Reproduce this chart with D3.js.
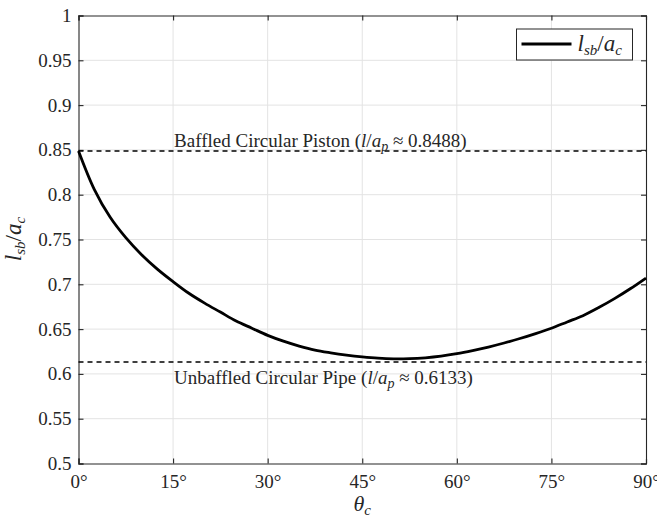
<!DOCTYPE html>
<html>
<head>
<meta charset="utf-8">
<script src="https://cdn.jsdelivr.net/npm/d3@7"></script>
<style>
  body { margin: 0; background: #fff; }
</style>
</head>
<body>
<div id="VisContainer"></div>
<script>
// angle (deg) and l_sb/a_c
var thetaVals = [0, 2.5, 5, 7.5, 10, 12.5, 15, 17.5, 20, 22.5, 25, 27.5, 30, 32.5, 35, 37.5, 40, 42.5, 45, 47.5,
                 50, 52.5, 55, 57.5, 60, 62.5, 65, 67.5, 70, 72.5, 75, 77.5, 80, 82.5, 85, 87.5, 90];
var lsbVals = [0.8488, 0.806, 0.775, 0.752, 0.733, 0.717, 0.703, 0.690, 0.679, 0.669, 0.659, 0.651, 0.643, 0.6365,
               0.631, 0.6265, 0.6235, 0.621, 0.619, 0.6175, 0.6168, 0.617, 0.618, 0.6198, 0.6225, 0.626, 0.630, 0.6345,
               0.6395, 0.645, 0.651, 0.658, 0.665, 0.674, 0.684, 0.695, 0.707];
var refVals = [0.8488, 0.6133];
var refLabels = ["Baffled Circular Piston", "Unbaffled Circular Pipe"];
var xTicks = [0, 15, 30, 45, 60, 75, 90];
var yTicks = [0.5, 0.55, 0.6, 0.65, 0.7, 0.75, 0.8, 0.85, 0.9, 0.95, 1];

var serif = "'Times New Roman', 'Liberation Serif', 'DejaVu Serif', 'Noto Serif', Times, serif";

var W = 657, H = 518;
var margin = {top: 15.5, right: 11, bottom: 54.5, left: 78.5};
var width = W - margin.left - margin.right,
    height = H - margin.top - margin.bottom;

var data = thetaVals.map(function(t, i) { return {t: t, v: lsbVals[i]}; });

var svg = d3.select("#VisContainer").append("svg")
    .attr("width", W).attr("height", H)
    .attr("font-family", serif)
    .append("g")
    .attr("transform", "translate(" + margin.left + "," + margin.top + ")");

var x = d3.scaleLinear().domain([0, 90]).range([0, width]);
var y = d3.scaleLinear().domain([0.5, 1]).range([height, 0]);

// grid
svg.append("g").selectAll("line.gx").data(xTicks.slice(1, -1)).enter().append("line")
    .attr("x1", function(d) { return x(d); }).attr("x2", function(d) { return x(d); })
    .attr("y1", 0).attr("y2", height)
    .attr("stroke", "#e3e3e3").attr("stroke-width", 1);
svg.append("g").selectAll("line.gy").data(yTicks.slice(1, -1)).enter().append("line")
    .attr("y1", function(d) { return y(d); }).attr("y2", function(d) { return y(d); })
    .attr("x1", 0).attr("x2", width)
    .attr("stroke", "#e3e3e3").attr("stroke-width", 1);

// axes, ticks inside
var fmtY = function(d) { return d3.format("~g")(d); };
var xAxis = svg.append("g").attr("transform", "translate(0," + height + ")")
    .call(d3.axisBottom(x).tickValues(xTicks).tickSize(-5).tickPadding(11).tickFormat(function(d) { return d + "\u00b0"; }));
var xTop = svg.append("g")
    .call(d3.axisTop(x).tickValues(xTicks).tickSize(-5).tickFormat(""));
var yAxis = svg.append("g")
    .call(d3.axisLeft(y).tickValues(yTicks).tickSize(-5).tickPadding(7).tickFormat(fmtY));
var yRight = svg.append("g").attr("transform", "translate(" + width + ",0)")
    .call(d3.axisRight(y).tickValues(yTicks).tickSize(-5).tickFormat(""));

[xAxis, xTop, yAxis, yRight].forEach(function(a) {
  a.attr("font-family", serif).attr("font-size", 19);
  a.select(".domain").attr("stroke", "#262626").attr("stroke-width", 1.1);
  a.selectAll(".tick line").attr("stroke", "#262626").attr("stroke-width", 1.1);
  a.selectAll("text").attr("fill", "#262626");
});

// reference lines
svg.selectAll("line.ref").data(refVals).enter().append("line")
    .attr("class", "ref")
    .attr("x1", 0).attr("x2", width)
    .attr("y1", function(d) { return y(d); }).attr("y2", function(d) { return y(d); })
    .attr("stroke", "#000").attr("stroke-width", 1.4).attr("stroke-dasharray", "5,4");

var refText = svg.selectAll("text.ref").data(refVals).enter().append("text")
    .attr("class", "ref")
    .attr("x", x(15) + 1)
    .attr("y", function(d, i) { return i == 0 ? y(d) - 4 : y(d) + 22; })
    .attr("font-family", serif).attr("font-size", 19).attr("fill", "#262626");
refText.append("tspan").text(function(d, i) { return refLabels[i] + " ("; });
refText.append("tspan").attr("font-style", "italic").text("l");
refText.append("tspan").text("/");
refText.append("tspan").attr("font-style", "italic").text("a");
refText.append("tspan").attr("font-style", "italic").attr("font-size", 14).attr("dy", 4).text("p");
refText.append("tspan").attr("dy", -4).text(function(d) { return " \u2248 " + d.toFixed(4) + ")"; });

// main curve
var line = d3.line()
    .x(function(d) { return x(d.t); })
    .y(function(d) { return y(d.v); })
    .curve(d3.curveCatmullRom);

svg.append("path").datum(data)
    .attr("d", line)
    .attr("fill", "none").attr("stroke", "#000").attr("stroke-width", 2.8);

// legend
var leg = svg.append("g").attr("transform", "translate(" + (width - 129.5) + ",13.5)");
leg.append("rect").attr("width", 116).attr("height", 31)
    .attr("fill", "#fff").attr("stroke", "#262626").attr("stroke-width", 1);
leg.append("line").attr("x1", 5).attr("x2", 55).attr("y1", 15).attr("y2", 15)
    .attr("stroke", "#000").attr("stroke-width", 2.8);
var lt = leg.append("text").attr("x", 61).attr("y", 22)
    .attr("font-family", serif).attr("font-size", 23).attr("font-style", "italic").attr("fill", "#262626");
lt.append("tspan").text("l");
lt.append("tspan").attr("font-size", 15).attr("dy", 4).text("sb");
lt.append("tspan").attr("font-style", "normal").attr("dy", -4).text("/");
lt.append("tspan").text("a");
lt.append("tspan").attr("font-size", 15).attr("dy", 4).text("c");

// axis labels
var xl = svg.append("text").attr("x", width / 2).attr("y", height + 47.5)
    .attr("text-anchor", "middle").attr("font-family", serif).attr("font-size", 22)
    .attr("font-style", "italic").attr("fill", "#262626");
xl.append("tspan").text("\u03b8");
xl.append("tspan").attr("font-size", 15).attr("dy", 4).text("c");

var yl = svg.append("text")
    .attr("transform", "translate(-58," + (height / 2 - 0.5) + ") rotate(-90)")
    .attr("text-anchor", "middle").attr("font-family", serif).attr("font-size", 23)
    .attr("font-style", "italic").attr("fill", "#262626");
yl.append("tspan").text("l");
yl.append("tspan").attr("font-size", 15).attr("dy", 4).text("sb");
yl.append("tspan").attr("font-style", "normal").attr("dy", -4).text("/");
yl.append("tspan").text("a");
yl.append("tspan").attr("font-size", 15).attr("dy", 4).text("c");
</script>
</body>
</html>
